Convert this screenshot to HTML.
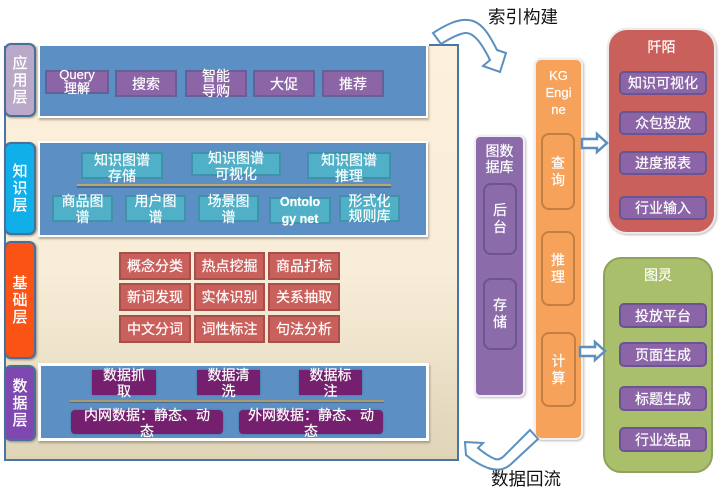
<!DOCTYPE html>
<html><head><meta charset="utf-8">
<style>
html,body{margin:0;padding:0;background:#fff}
#p{position:relative;width:721px;height:493px;overflow:hidden;background:#fff;font-family:"Liberation Sans","Noto Sans CJK SC",sans-serif;color:#fff;filter:blur(.3px);-webkit-text-stroke:.2px #fff}
.b{position:absolute;box-sizing:border-box;display:flex;align-items:center;justify-content:center;text-align:center;font-size:14px;line-height:16px}
.l{border:2px solid #4a6f96;border-radius:7px;font-size:15px;line-height:17px;box-shadow:1px 1px 2px rgba(60,60,60,.5);-webkit-text-stroke:.3px #fff}
.n{position:absolute;box-sizing:border-box;background:#5c90c5;border:2px solid #fff;box-shadow:1px 2px 2px rgba(110,100,80,.5)}
.pu{background:#8b65a5;border:2px solid #64609a}
.te{background:#50b0c8;border:2px solid #3f93a8}
.re{background:#c9605b;border:2px solid #a64f4b}
.dp{background:#74206f;box-shadow:0 0 2px #3d6f9f}
.m{background:#8b65a7;border:2px solid #6a5590;border-radius:5px}
.ln{position:absolute;height:3px;background:#b9a96e;border-bottom:2px solid #4a6a90;box-sizing:border-box}
.v{border-radius:8px;font-size:14px}
</style></head><body><div id="p">

<div style="position:absolute;left:4px;top:44px;width:455px;height:417px;box-sizing:border-box;border:2px solid #4a76a3;background:linear-gradient(#fdf0dc 0%,#f8edd8 55%,#dfd4b8 100%)"></div>
<div style="position:absolute;left:3px;top:40px;width:426px;height:6px;background:#fff"></div>

<div class="n" style="left:38px;top:44px;width:390px;height:74px"></div>
<div class="n" style="left:38px;top:141px;width:390px;height:96px"></div>
<div class="n" style="left:38px;top:363px;width:391px;height:78px;border-width:3px"></div>

<div class="b l" style="left:4px;top:43px;width:32px;height:74px;background:#b9a8c8">应<br>用<br>层</div>
<div class="b l" style="left:4px;top:142px;width:32px;height:93px;background:#10afe9">知<br>识<br>层</div>
<div class="b l" style="left:4px;top:241px;width:32px;height:118px;background:#fb5216">基<br>础<br>层</div>
<div class="b l" style="left:4px;top:365px;width:32px;height:76px;background:#7f48b0">数<br>据<br>层</div>

<div class="b pu" style="left:45px;top:70px;width:64px;height:24px;font-size:13px;line-height:14px">Query<br>理解</div>
<div class="b pu" style="left:115px;top:70px;width:62px;height:27px">搜索</div>
<div class="b pu" style="left:185px;top:70px;width:62px;height:27px;line-height:15px">智能<br>导购</div>
<div class="b pu" style="left:253px;top:70px;width:62px;height:27px">大促</div>
<div class="b pu" style="left:322px;top:70px;width:62px;height:27px">推荐</div>

<div class="b te" style="left:81px;top:152px;width:82px;height:27px;line-height:16px;padding-top:4px">知识图谱<br>存储</div>
<div class="b te" style="left:191px;top:152px;width:90px;height:24px;line-height:16px;padding-top:3px">知识图谱<br>可视化</div>
<div class="b te" style="left:307px;top:152px;width:84px;height:27px;line-height:16px;padding-top:4px">知识图谱<br>推理</div>
<div class="ln" style="left:77px;top:184px;width:314px;height:4px"></div>

<div class="b te" style="left:52px;top:195px;width:61px;height:27px;line-height:16px">商品图<br>谱</div>
<div class="b te" style="left:125px;top:195px;width:61px;height:27px;line-height:16px">用户图<br>谱</div>
<div class="b te" style="left:198px;top:195px;width:61px;height:27px;line-height:16px">场景图<br>谱</div>
<div class="b te" style="left:269px;top:197px;width:62px;height:27px;font-weight:bold;font-size:12.5px;line-height:17px">Ontolo<br>gy net</div>
<div class="b te" style="left:339px;top:195px;width:61px;height:27px;line-height:15px">形式化<br>规则库</div>

<div class="b re" style="left:119px;top:252px;width:72px;height:28px">概念分类</div>
<div class="b re" style="left:194px;top:252px;width:71px;height:28px">热点挖掘</div>
<div class="b re" style="left:268px;top:252px;width:72px;height:28px">商品打标</div>
<div class="b re" style="left:119px;top:283px;width:72px;height:28px">新词发现</div>
<div class="b re" style="left:194px;top:283px;width:71px;height:28px">实体识别</div>
<div class="b re" style="left:268px;top:283px;width:72px;height:28px">关系抽取</div>
<div class="b re" style="left:119px;top:315px;width:72px;height:28px">中文分词</div>
<div class="b re" style="left:194px;top:315px;width:71px;height:28px">词性标注</div>
<div class="b re" style="left:268px;top:315px;width:72px;height:28px">句法分析</div>

<div class="b dp" style="left:92px;top:370px;width:64px;height:25px;line-height:16px">数据抓<br>取</div>
<div class="b dp" style="left:197px;top:370px;width:63px;height:25px;line-height:16px">数据清<br>洗</div>
<div class="b dp" style="left:299px;top:370px;width:63px;height:25px;line-height:16px">数据标<br>注</div>
<div class="ln" style="left:70px;top:400px;width:314px;height:3px;border-bottom-width:1px;background:#a89c72"></div>
<div class="b dp" style="left:71px;top:410px;width:152px;height:24px;border-radius:4px;line-height:16px;padding-top:2px">内网数据：静态、动<br>态</div>
<div class="b dp" style="left:239px;top:410px;width:144px;height:24px;border-radius:4px;line-height:16px;padding-top:2px">外网数据：静态、动<br>态</div>

<div class="b" style="left:474px;top:135px;width:51px;height:262px;background:#8c6bab;border:2px solid #f1eef4;border-radius:6px;box-shadow:1px 1px 2px rgba(120,120,120,.5);align-items:flex-start;padding-top:6px;line-height:16px">图数<br>据库</div>
<div class="b v" style="left:483px;top:183px;width:34px;height:72px;border:2px solid #6d5490;line-height:17px">后<br>台</div>
<div class="b v" style="left:483px;top:278px;width:34px;height:72px;border:2px solid #6d5490;line-height:17px">存<br>储</div>

<div class="b" style="left:534px;top:58px;width:49px;height:382px;background:#f6a25a;border:2px solid #f1efed;border-radius:7px;box-shadow:1px 1px 2px rgba(120,120,120,.5);align-items:flex-start;padding-top:7px;font-size:13px;line-height:17px">KG<br>Engi<br>ne</div>
<div class="b v" style="left:541px;top:133px;width:34px;height:77px;border:2px solid #c47f42;line-height:17px">查<br>询</div>
<div class="b v" style="left:541px;top:231px;width:34px;height:75px;border:2px solid #c47f42;line-height:17px">推<br>理</div>
<div class="b v" style="left:541px;top:332px;width:35px;height:75px;border:2px solid #c47f42;line-height:17px">计<br>算</div>

<div class="b" style="left:607px;top:28px;width:109px;height:206px;background:#c9605b;border:2px solid #efe9e8;border-radius:20px;box-shadow:1px 1px 2px rgba(120,120,120,.5);align-items:flex-start;padding-top:9px">阡陌</div>
<div class="b m" style="left:619px;top:71px;width:88px;height:24px">知识可视化</div>
<div class="b m" style="left:619px;top:111px;width:88px;height:24px">众包投放</div>
<div class="b m" style="left:619px;top:151px;width:88px;height:24px">进度报表</div>
<div class="b m" style="left:619px;top:196px;width:88px;height:24px">行业输入</div>

<div class="b" style="left:603px;top:257px;width:110px;height:216px;background:#a9bf6c;border:2px solid #8ea25c;border-radius:18px;align-items:flex-start;padding-top:8px">图灵</div>
<div class="b m" style="left:619px;top:303px;width:88px;height:25px">投放平台</div>
<div class="b m" style="left:619px;top:342px;width:88px;height:25px">页面生成</div>
<div class="b m" style="left:619px;top:386px;width:88px;height:25px">标题生成</div>
<div class="b m" style="left:619px;top:427px;width:88px;height:25px">行业选品</div>

<svg width="721" height="493" style="position:absolute;left:0;top:0" fill="#fff" stroke="#5a8fc0" stroke-width="2" stroke-linejoin="miter">
<path d="M433 33 C447 24 458 19 468 20 C482 21 490 36 497 50 L506 53 L500 72 L483 66 L490 60 C482 44 474 32 465 33 C458 34 449 39 441 44 Z"/>
<path d="M530 430 L538 439 L510 465 C504 470 497 471 488 468 C480 465 472 460 466 455 L465 442 L483 443 L478 448 C484 453 490 457 495 459 C498 460 501 459 504 456 Z"/>
<path d="M582 139 H597 V134 L607 143 L597 152 V148 H582 Z" stroke-width="2.5"/>
<path d="M580 347 H595 V342 L605 351 L595 360 V356 H580 Z" stroke-width="2.5"/>
</svg>

<div style="position:absolute;left:488px;top:5px;font-size:17.5px;line-height:24px;color:#111;-webkit-text-stroke:0;white-space:nowrap">索引构建</div>
<div style="position:absolute;left:491px;top:467px;font-size:17.5px;line-height:24px;color:#111;-webkit-text-stroke:0;white-space:nowrap">数据回流</div>
</div></body></html>
